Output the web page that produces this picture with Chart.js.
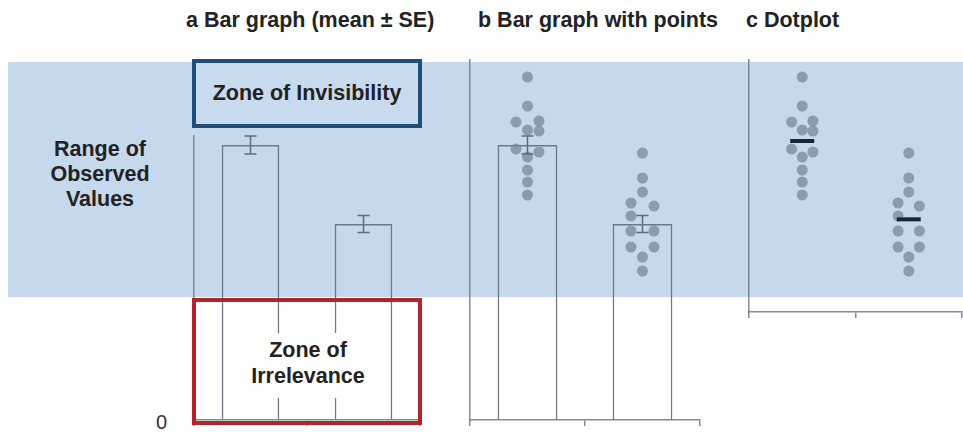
<!DOCTYPE html>
<html>
<head>
<meta charset="utf-8">
<script src="https://cdn.jsdelivr.net/npm/chart.js@4"></script>
<style>
body{margin:0;width:963px;height:436px;position:relative;overflow:hidden;background:#fff;font-family:"Liberation Sans",Arial,sans-serif;color:#222}
.abs{position:absolute}
#band{left:8px;top:62px;width:955px;height:235px;background:#c5d8ec}
.title{top:8px;line-height:24px;font-size:21.5px;font-weight:bold;white-space:nowrap}
#range{left:30px;top:137px;width:140px;text-align:center;font-weight:bold;font-size:21.5px;line-height:25px}
#zero{left:156px;top:411px;font-size:20px;line-height:22px;color:#333}
#invis{left:192px;top:59px;width:230px;height:69px;box-sizing:border-box;border:4px solid #1f4e79;background:#c8daee;display:flex;align-items:center;justify-content:center;font-weight:bold;font-size:21.5px;white-space:nowrap}
#irrel{left:192px;top:298px;width:230px;height:127px;box-sizing:border-box;border:4px solid #b0242a}
#irrelText{left:247px;top:333px;width:122px;padding:4px 0 9px;background:#fff;text-align:center;font-weight:bold;font-size:21.5px;line-height:26px}
canvas{position:absolute}
</style>
</head>
<body>
<div id="band" class="abs"></div>
<div class="abs title" style="left:186px">a Bar graph (mean ± SE)</div>
<div class="abs title" style="left:478px">b Bar graph with points</div>
<div class="abs title" style="left:746px">c Dotplot</div>
<div id="range" class="abs">Range of<br>Observed<br>Values</div>
<div id="zero" class="abs">0</div>
<div id="invis" class="abs">Zone of Invisibility</div>
<canvas id="chartA" width="246" height="310" style="left:184px;top:126px"></canvas>
<canvas id="chartB" width="250" height="386" style="left:460px;top:50px"></canvas>
<canvas id="chartC" width="224" height="278" style="left:739px;top:50px"></canvas>
<div id="irrel" class="abs"></div>
<div id="irrelText" class="abs">Zone of<br>Irrelevance</div>
<script>
// two groups, values (arbitrary units, 0 at the baseline)
const groups = ['Group 1', 'Group 2'];
const barMeans = [27.5, 19.6];
const barSE = [0.9, 0.85];
const group1Values = [34.3, 31.4, 29.9, 29.8, 29.0, 28.9, 27.1, 26.8, 26.3, 25.0, 23.8, 22.5];
const group1Cols   = [0, 0, 1, -1, 0, 1, -1, 1, 0, 0, 0, 0];
const group2Values = [26.7, 24.2, 22.8, 21.7, 21.4, 20.4, 18.9, 18.9, 17.3, 17.3, 16.3, 14.9];
const group2Cols   = [0, 0, 0, -1, 1, -1, -1, 1, -1, 1, 0, 0];

const axisColor = 'rgba(110,120,134,0.85)';
const barColor = '#6c7888';
const dotColor = 'rgba(118,132,152,0.72)';
const jitter = 0.1;

const allValues = [group1Values, group2Values];
const allCols = [group1Cols, group2Cols];
const points = allValues.map((vals, g) => vals.map((v, i) => ({x: g + allCols[g][i] * jitter, y: v})));
const dotMeans = allValues.map(vals => vals.reduce((a, b) => a + b, 0) / vals.length);

const errorBars = {
  id: 'errorBars',
  afterDatasetsDraw(chart, args, opts) {
    if (!opts.se) return;
    const meta = chart.getDatasetMeta(0);
    const y = chart.scales.y;
    const ctx = chart.ctx;
    ctx.save();
    ctx.strokeStyle = opts.color;
    ctx.lineWidth = 1.5;
    meta.data.forEach((bar, i) => {
      const m = chart.data.datasets[0].data[i];
      const top = y.getPixelForValue(m + opts.se[i]);
      const bot = y.getPixelForValue(m - opts.se[i]);
      ctx.beginPath();
      ctx.moveTo(bar.x, top); ctx.lineTo(bar.x, bot);
      ctx.moveTo(bar.x - 6, top); ctx.lineTo(bar.x + 6, top);
      ctx.moveTo(bar.x - 6, bot); ctx.lineTo(bar.x + 6, bot);
      ctx.stroke();
    });
    ctx.restore();
  }
};

function makeScales(yMin, yMax, withJitter) {
  const s = {
    x: {
      type: 'category', offset: true,
      grid: {display: true, drawOnChartArea: false, offset: true, tickLength: 6, color: axisColor, lineWidth: 1.5},
      border: {color: axisColor, width: 1.5},
      ticks: {display: false}
    },
    y: {
      min: yMin, max: yMax,
      grid: {display: false, drawTicks: false},
      border: {color: axisColor, width: 1.5},
      ticks: {display: false}
    }
  };
  if (withJitter) s.xj = {type: 'linear', axis: 'x', display: false, offset: false, grid: {offset: false}, min: -0.5, max: 1.5};
  return s;
}

function barSet(pct) {
  return {
    type: 'bar', data: barMeans, order: 2, grouped: false,
    backgroundColor: 'transparent', borderColor: barColor, borderWidth: 1.5,
    barPercentage: pct, categoryPercentage: 1
  };
}

function dotSets() {
  return points.map(p => ({
    type: 'scatter', data: p, xAxisID: 'xj', order: 1,
    pointRadius: 5.5, pointBackgroundColor: dotColor, pointBorderWidth: 0
  }));
}

const common = {
  responsive: false, animation: false,
  plugins: {legend: {display: false}, tooltip: {enabled: false}},
  layout: {autoPadding: false, padding: {left: 10, right: 10, top: 10, bottom: 10}}
};

// a: bar graph (mean ± SE)
new Chart(document.getElementById('chartA'), {
  type: 'bar',
  data: {labels: groups, datasets: [barSet(0.51)]},
  options: Object.assign({}, common, {
    scales: makeScales(0, 28.4, false),
    plugins: Object.assign({}, common.plugins, {errorBars: {se: barSE, color: '#5d6b7e'}})
  }),
  plugins: [errorBars]
});

// b: bar graph with points
new Chart(document.getElementById('chartB'), {
  type: 'bar',
  data: {labels: groups, datasets: [barSet(0.52)].concat(dotSets())},
  options: Object.assign({}, common, {
    scales: makeScales(0, 36, true),
    plugins: Object.assign({}, common.plugins, {errorBars: {se: barSE, color: '#5d6b7e'}})
  }),
  plugins: [errorBars]
});

// c: dotplot with mean lines
new Chart(document.getElementById('chartC'), {
  type: 'bar',
  data: {
    labels: groups,
    datasets: dotSets().concat([{
      type: 'scatter', xAxisID: 'xj', order: 0,
      data: dotMeans.map((m, g) => ({x: g, y: m})),
      pointStyle: 'line', pointRadius: 12, pointBorderWidth: 4, pointBorderColor: '#14263a'
    }])
  },
  options: Object.assign({}, common, {
    layout: {autoPadding: false, padding: {left: 10, right: 1, top: 10, bottom: 10}},
    scales: makeScales(10.8, 36, true)
  })
});
</script>
</body>
</html>
